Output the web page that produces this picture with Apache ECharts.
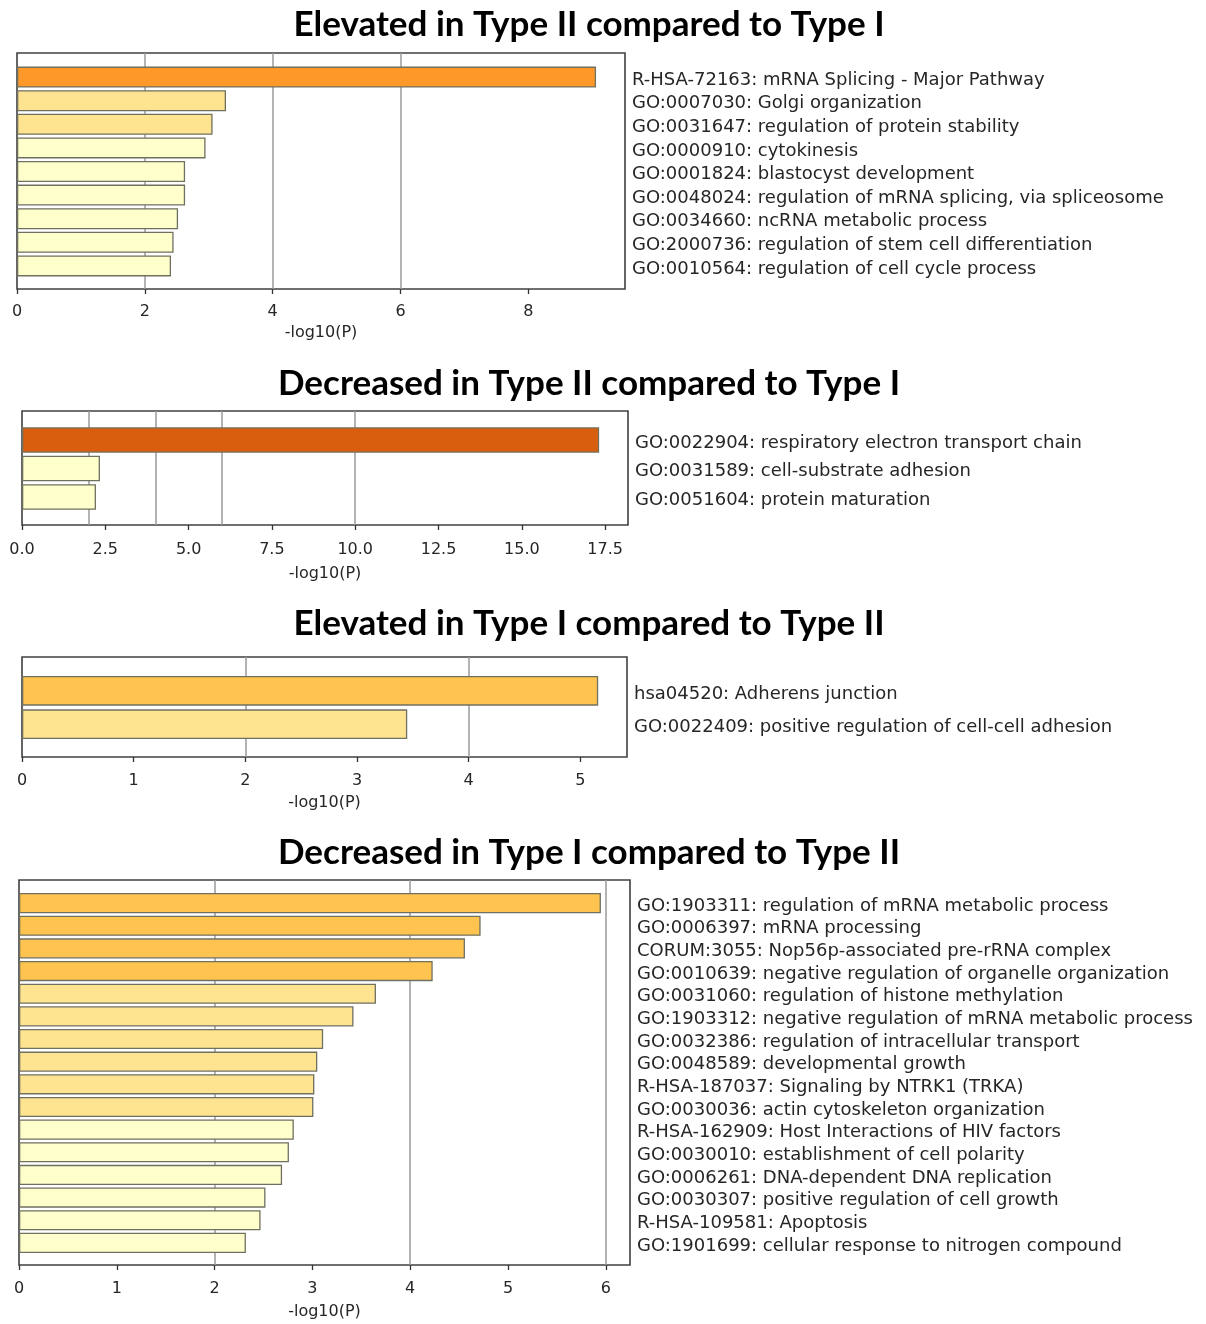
<!DOCTYPE html>
<html>
<head>
<meta charset="utf-8">
<script src="https://cdn.jsdelivr.net/npm/echarts@6/dist/echarts.min.js"></script>
<style>
  html, body { margin: 0; padding: 0; background: #ffffff; }
  #chart { width: 1206px; height: 1324px; }
</style>
</head>
<body>
<div id="chart"></div>
<script>
// ---- enrichment terms and -log10(P) values, one block per comparison ----
const titles = [
  'Elevated in Type II compared to Type I',
  'Decreased in Type II compared to Type I',
  'Elevated in Type I compared to Type II',
  'Decreased in Type I compared to Type II'
];

const terms1 = [
  'R-HSA-72163: mRNA Splicing - Major Pathway',
  'GO:0007030: Golgi organization',
  'GO:0031647: regulation of protein stability',
  'GO:0000910: cytokinesis',
  'GO:0001824: blastocyst development',
  'GO:0048024: regulation of mRNA splicing, via spliceosome',
  'GO:0034660: ncRNA metabolic process',
  'GO:2000736: regulation of stem cell differentiation',
  'GO:0010564: regulation of cell cycle process'
];
const values1 = [9.06, 3.27, 3.06, 2.95, 2.63, 2.63, 2.52, 2.45, 2.41];

const terms2 = [
  'GO:0022904: respiratory electron transport chain',
  'GO:0031589: cell-substrate adhesion',
  'GO:0051604: protein maturation'
];
const values2 = [17.32, 2.34, 2.22];

const terms3 = [
  'hsa04520: Adherens junction',
  'GO:0022409: positive regulation of cell-cell adhesion'
];
const values3 = [5.16, 3.45];

const terms4 = [
  'GO:1903311: regulation of mRNA metabolic process',
  'GO:0006397: mRNA processing',
  'CORUM:3055: Nop56p-associated pre-rRNA complex',
  'GO:0010639: negative regulation of organelle organization',
  'GO:0031060: regulation of histone methylation',
  'GO:1903312: negative regulation of mRNA metabolic process',
  'GO:0032386: regulation of intracellular transport',
  'GO:0048589: developmental growth',
  'R-HSA-187037: Signaling by NTRK1 (TRKA)',
  'GO:0030036: actin cytoskeleton organization',
  'R-HSA-162909: Host Interactions of HIV factors',
  'GO:0030010: establishment of cell polarity',
  'GO:0006261: DNA-dependent DNA replication',
  'GO:0030307: positive regulation of cell growth',
  'R-HSA-109581: Apoptosis',
  'GO:1901699: cellular response to nitrogen compound'
];
const values4 = [5.95, 4.72, 4.56, 4.23, 3.65, 3.42, 3.11, 3.05, 3.02, 3.01,
                 2.81, 2.76, 2.69, 2.52, 2.47, 2.32];

// x-axis tick values and the reference lines behind the bars
const ticks1 = [0, 2, 4, 6, 8];
const ticks2 = [0, 2.5, 5, 7.5, 10, 12.5, 15, 17.5];
const ticks3 = [0, 1, 2, 3, 4, 5];
const ticks4 = [0, 1, 2, 3, 4, 5, 6];
const refLines1 = [2, 4, 6];
const refLines2 = [2, 4, 6, 10];
const refLines3 = [2, 4];
const refLines4 = [2, 4, 6];
const tickDecimals = [0, 1, 0, 0];

// colour bins on -log10(P)
const binEdges  = [3, 4, 6, 10, 20];
const binColors = ['#ffffcc', '#fee391', '#fec44f', '#fe9929', '#d95f0e', '#993404'];

const axisName = '-log10(P)';

// ---- layout of each panel frame (pixels) ----
const frames = [
  { left: 17, right: 625, top: 53,  bottom: 289,  titleY: 2,   labelGap: 15, nameGap: 36 },
  { left: 22, right: 628, top: 411, bottom: 525,  titleY: 361, labelGap: 17, nameGap: 41 },
  { left: 22, right: 627, top: 657, bottom: 757,  titleY: 601, labelGap: 16, nameGap: 38 },
  { left: 19, right: 630, top: 880, bottom: 1265, titleY: 830, labelGap: 16, nameGap: 39 }
];

const panels = [
  { terms: terms1, values: values1, ticks: ticks1, refs: refLines1 },
  { terms: terms2, values: values2, ticks: ticks2, refs: refLines2 },
  { terms: terms3, values: values3, ticks: ticks3, refs: refLines3 },
  { terms: terms4, values: values4, ticks: ticks4, refs: refLines4 }
];

function binColor(v) {
  for (let i = 0; i < binEdges.length; i++) {
    if (v < binEdges[i]) return binColors[i];
  }
  return binColors[binColors.length - 1];
}

const textFont = 'DejaVu Sans';
const textColor = '#262626';

const option = {
  backgroundColor: '#ffffff',
  animation: false,
  title: [],
  grid: [],
  xAxis: [],
  yAxis: [],
  series: []
};

panels.forEach((p, i) => {
  const f = frames[i];
  const n = p.terms.length;
  const H = f.bottom - f.top;
  const band = H / (n + 1);
  const xMax = Math.max.apply(null, p.values) * 1.05;
  const dec = tickDecimals[i];

  option.title.push({
    text: titles[i],
    left: 584,
    top: f.titleY,
    textAlign: 'center',
    textStyle: { fontFamily: 'Lato', fontWeight: 'bold', fontSize: 35, color: '#000' }
  });

  // frame grid: border, ticks, axis name, reference lines
  option.grid.push({
    left: f.left, width: f.right - f.left, top: f.top, height: H,
    show: true, borderColor: '#404040', borderWidth: 1.6, backgroundColor: 'transparent',
    containLabel: false
  });
  // bar grid: inset by half a band on top and bottom
  option.grid.push({
    left: f.left, width: f.right - f.left, top: f.top + band / 2 + 0.5, height: band * n,
    show: false, containLabel: false
  });

  option.xAxis.push({
    gridIndex: 2 * i, type: 'value', min: 0, max: xMax,
    axisLine: { show: false },
    axisTick: { show: true, customValues: p.ticks, length: 5, lineStyle: { color: '#333', width: 1.3 } },
    axisLabel: {
      customValues: p.ticks, margin: f.labelGap,
      fontFamily: textFont, fontSize: 16, color: textColor,
      formatter: v => Number(v).toFixed(dec)
    },
    splitLine: { show: false },
    name: axisName, nameLocation: 'middle', nameGap: f.nameGap,
    nameTextStyle: { fontFamily: textFont, fontSize: 16, color: textColor }
  });
  option.yAxis.push({ gridIndex: 2 * i, type: 'value', min: 0, max: 1, show: false });

  option.xAxis.push({ gridIndex: 2 * i + 1, type: 'value', min: 0, max: xMax, show: false });
  option.yAxis.push({
    gridIndex: 2 * i + 1, type: 'category', data: p.terms, inverse: true,
    position: 'right',
    axisLine: { show: false }, axisTick: { show: false }, splitLine: { show: false },
    axisLabel: {
      show: true, align: 'left', margin: 7, interval: 0,
      verticalAlign: 'top', lineHeight: 6,
      fontFamily: textFont, fontSize: 18, color: textColor
    }
  });

  option.series.push({
    type: 'bar',
    xAxisIndex: 2 * i + 1, yAxisIndex: 2 * i + 1,
    data: p.values.map(v => ({
      value: v,
      itemStyle: { color: binColor(v) }
    })),
    barCategoryGap: '11%',
    itemStyle: { borderColor: '#707060', borderWidth: 1.3 },
    z: 3,
    silent: true
  });

  option.series.push({
    type: 'scatter',
    xAxisIndex: 2 * i, yAxisIndex: 2 * i,
    data: [],
    silent: true,
    z: 1,
    markLine: {
      silent: true, z: 1,
      symbol: ['none', 'none'],
      label: { show: false },
      lineStyle: { type: 'solid', color: '#9a9a9a', width: 1.5 },
      data: p.refs.map(r => ({ xAxis: r }))
    }
  });
});

const chart = echarts.init(document.getElementById('chart'), null, { renderer: 'canvas' });
chart.setOption(option);
</script>
</body>
</html>
